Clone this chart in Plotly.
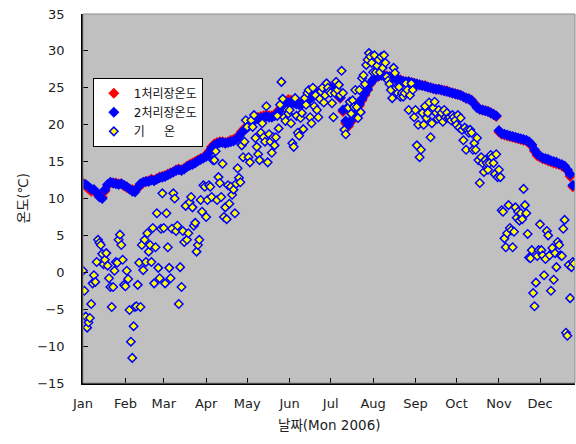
import pandas as pd
import plotly.graph_objects as go

# ---------------- data ----------------
months = ["Jan", "Feb", "Mar", "Apr", "May", "Jun", "Jul", "Aug", "Sep", "Oct", "Nov", "Dec"]
month_starts = ["2006-%02d-01" % m for m in range(1, 13)]

# water temperature, plant 1 (every 2 days from 2006-01-01)
plant1 = [12.1, 11.7, 11.3, 11.0, 11.0, 10.7, 10.3, 10.2, 11.0, 11.8, 12.1, 12.1, 12.1, 12.0, 12.0, 11.7,
          11.5, 11.3, 11.2, 11.1, 11.4, 11.9, 12.1, 12.3, 12.4, 12.6, 12.5, 12.7, 12.9, 13.0, 13.1, 13.3,
          13.5, 13.6, 13.9, 14.0, 13.9, 14.1, 14.4, 14.6, 14.8, 15.0, 15.2, 15.4, 15.6, 15.9, 16.4, 17.0,
          17.4, 17.6, 17.7, 17.7, 17.6, 17.7, 17.9, 18.0, 18.2, 18.6, 19.1, 19.5, 19.8, 20.2, 20.6, 20.9,
          21.0, 21.1, 21.2, 21.3, 21.2, 21.2, 21.4, 21.7, 22.2, 22.7, 23.0, 23.4, 23.3, 23.1, 23.0, 22.9,
          23.0, 23.2, 23.4, 23.7, 24.0, 24.3, 24.5, 24.7, 24.9, 25.1, 25.2, 25.1, 24.8, 24.4, 23.6, 21.8,
          20.2, 19.8, 20.4, 21.3, 22.0, 22.6, 23.3, 24.0, 24.7, 25.5, 26.0, 26.4, 26.6, 26.7, 26.7, 26.6,
          26.5, 26.4, 26.3, 26.2, 26.1, 25.9, 25.8, 25.8, 25.7, 25.6, 25.5, 25.4, 25.3, 25.3, 25.1, 25.0,
          24.9, 24.8, 24.8, 24.7, 24.6, 24.6, 24.4, 24.3, 24.2, 24.1, 24.0, 23.8, 23.6, 23.5, 23.3, 22.9,
          22.4, 22.1, 22.0, 21.9, 21.8, 21.6, 21.4, 21.1, 19.0, 18.7, 18.6, 18.5, 18.4, 18.3, 18.2, 18.1,
          18.0, 17.9, 17.8, 17.6, 17.1, 16.4, 15.8, 15.6, 15.4, 15.3, 15.1, 15.0, 14.8, 14.7, 14.6, 14.4,
          14.2, 13.8, 13.0, 11.6]

# water temperature, plant 2 (every 2 days from 2006-01-01)
plant2 = [12.0, 11.9, 11.6, 11.3, 11.2, 10.8, 10.2, 10.0, 11.2, 11.9, 12.2, 12.1, 12.0, 11.9, 12.0, 11.8,
          11.6, 11.3, 11.0, 10.9, 11.5, 12.0, 12.2, 12.3, 12.3, 12.5, 12.4, 12.6, 12.8, 12.9, 13.0, 13.2,
          13.4, 13.6, 13.8, 13.9, 13.8, 14.0, 14.3, 14.5, 14.6, 14.8, 15.1, 15.3, 15.5, 15.7, 16.2, 16.8,
          17.2, 17.4, 17.6, 17.6, 17.5, 17.6, 17.7, 17.8, 18.0, 18.4, 18.9, 19.3, 19.6, 20.0, 20.4, 20.7,
          20.8, 20.9, 21.0, 21.1, 21.0, 21.0, 21.2, 21.5, 22.0, 22.4, 22.7, 23.0, 23.0, 22.9, 22.8, 22.7,
          22.8, 23.0, 23.2, 23.5, 23.8, 24.1, 24.3, 24.5, 24.7, 24.9, 25.0, 24.9, 24.6, 24.3, 23.7, 22.0,
          20.5, 20.0, 20.6, 21.5, 22.2, 22.8, 23.5, 24.2, 24.8, 25.6, 26.1, 26.5, 26.6, 26.7, 26.6, 26.5,
          26.5, 26.4, 26.3, 26.2, 26.0, 25.9, 25.8, 25.8, 25.7, 25.6, 25.5, 25.4, 25.3, 25.2, 25.1, 25.0,
          24.9, 24.8, 24.8, 24.7, 24.6, 24.5, 24.4, 24.3, 24.2, 24.1, 24.0, 23.8, 23.6, 23.5, 23.3, 22.8,
          22.3, 22.1, 22.0, 21.9, 21.8, 21.6, 21.4, 21.2, 19.2, 18.8, 18.7, 18.6, 18.5, 18.4, 18.3, 18.2,
          18.1, 18.0, 17.9, 17.7, 17.3, 16.6, 16.0, 15.8, 15.5, 15.4, 15.3, 15.1, 15.0, 14.9, 14.7, 14.6,
          14.4, 13.9, 13.3, 11.8]

# daily air temperature by month
air_jan = [0.2, -2.5, -6.0, -7.5, -6.8, -6.2, -4.3, -1.5, -0.4, -1.3, 1.4, 4.4, 4.0, 3.7, 2.5, 1.1,
           1.7, 2.6, 0.9, -0.8, -2.0, -4.7, -2.0, 0.2, 1.4, 1.3, 4.4, 5.1, 3.7, 1.7, -1.7]
air_feb = [-1.9, 0.2, -0.9, -5.1, -9.4, -11.6, -7.3, -4.7, -4.6, -1.7, 1.3, -4.7, 3.7, 0.3, 4.4, 1.4,
           5.3, 2.8, 3.7, 1.4, 6.0, -1.5, 3.4, 8.0, 0.6, -0.8, 5.9, 10.7]
air_mar = [6.0, -1.5, 8.0, 3.4, 0.6, -0.8, 5.9, 10.7, 10.0, 5.6, 6.3, -4.3, 0.7, -2.0, 5.6, 4.1,
           9.0, 4.4, 5.3, 9.5, 10.2, 8.8, 6.3, 6.7, 2.8, 3.7, 4.4, 9.8, 8.2, 11.8, 11.6]
air_apr = [7.5, 9.8, 11.8, 11.6, 10.2, 15.2, 15.2, 16.4, 9.8, 12.9, 12.1, 10.2, 14.7, 7.5, 8.8, 7.2,
           11.8, 9.3, 11.6, 10.5, 11.2, 8.0, 12.0, 14.1, 12.8, 12.2, 17.2, 15.6, 17.7, 20.6]
air_may = [19.7, 15.6, 14.9, 20.6, 19.7, 21.3, 18.2, 17.0, 16.0, 15.2, 18.9, 20.2, 18.3, 17.7, 22.5, 14.9,
           18.7, 17.7, 16.2, 18.3, 17.2, 18.3, 21.2, 19.5, 22.7, 25.8, 23.5, 21.0, 20.5, 22.0, 21.5]
air_jun = [22.0, 20.2, 17.5, 17.0, 23.6, 21.2, 18.9, 18.5, 20.9, 21.6, 19.4, 23.6, 22.7, 24.3, 24.7, 21.0,
           20.2, 25.0, 22.5, 24.0, 22.0, 21.0, 23.5, 24.5, 25.0, 23.0, 24.0, 25.6, 25.0, 24.5]
air_jul = [24.3, 22.9, 21.0, 24.3, 25.8, 24.7, 25.4, 24.0, 27.3, 24.3, 19.3, 18.7, 22.3, 22.3, 23.1, 21.5,
           23.3, 22.4, 24.7, 22.4, 20.9, 24.7, 21.7, 26.3, 26.7, 25.5, 28.1, 28.8, 29.7, 29.2, 28.4]
air_aug = [27.1, 29.4, 27.1, 28.0, 28.8, 27.1, 29.2, 27.7, 29.4, 28.4, 26.5, 26.0, 25.5, 24.7, 23.6, 27.7,
           27.0, 25.0, 24.3, 25.1, 23.8, 24.3, 23.8, 24.3, 25.6, 24.7, 22.0, 24.0, 25.6, 24.7, 21.0]
air_sep = [22.0, 17.2, 20.0, 15.6, 16.6, 21.6, 20.0, 22.5, 20.9, 21.6, 23.0, 18.3, 20.2, 22.3, 23.1, 21.6,
           20.8, 22.0, 20.9, 21.6, 20.4, 22.0, 21.0, 21.6, 20.9, 21.0, 20.6, 21.3, 21.0, 20.6]
air_oct = [20.0, 21.3, 19.6, 20.9, 19.3, 17.9, 19.6, 16.6, 19.3, 18.9, 19.3, 18.9, 16.6, 17.5, 16.6, 18.2,
           15.2, 12.1, 15.6, 14.8, 13.6, 15.2, 14.8, 13.9, 14.8, 15.9, 15.6, 14.8, 13.3, 16.0, 12.9]
air_nov = [13.9, 12.9, 8.4, 8.2, 4.6, 3.4, 5.3, 9.1, 6.0, 5.7, 3.4, 5.5, 8.8, 7.4, 8.2, 7.0,
           8.0, 7.2, 11.3, 9.1, 8.0, 5.2, 2.0, 1.9, 3.0, -2.8, -4.6, -1.4, 2.2, 3.0]
air_dec = [6.5, 3.0, 2.3, -0.4, 1.8, 5.6, 5.0, 2.3, -2.5, 3.3, -1.0, 2.6, 0.7, 4.1, 3.7, 2.3,
           2.2, 5.9, 7.1, -8.2, -8.6, 1.0, -3.5, 0.7, 1.4, 1.2]

names = ["1처리장온도", "2처리장온도", "기\u00a0\u00a0\u00a0\u00a0\u00a0온"]

# ---------------- build ----------------
air = (air_jan + air_feb + air_mar + air_apr + air_may + air_jun +
       air_jul + air_aug + air_sep + air_oct + air_nov + air_dec)
air_dates = pd.date_range("2006-01-01", periods=len(air), freq="D")
p1_dates = pd.date_range("2006-01-01", periods=len(plant1), freq="2D")
p2_dates = pd.date_range("2006-01-01", periods=len(plant2), freq="2D")

FONT = "DejaVu Sans, Noto Sans CJK KR, sans-serif"

fig = go.Figure()
fig.add_trace(go.Scatter(x=p1_dates, y=plant1, mode="markers", name=names[0],
                         marker=dict(symbol="diamond", size=8.5, color="#FF0000",
                                     line=dict(width=0))))
fig.add_trace(go.Scatter(x=p2_dates, y=plant2, mode="markers", name=names[1],
                         marker=dict(symbol="diamond", size=8.5, color="#0000FF",
                                     line=dict(width=0))))
fig.add_trace(go.Scatter(x=air_dates, y=air, mode="markers", name=names[2],
                         marker=dict(symbol="diamond", size=6.5, color="#FFFF00",
                                     line=dict(width=1.5, color="#0000FF"))))

fig.update_layout(
    width=576, height=444,
    margin=dict(l=83, r=1, t=14, b=61),
    paper_bgcolor="white",
    plot_bgcolor="#C0C0C0",
    font=dict(family=FONT, size=13, color="#222"),
    showlegend=True,
    legend=dict(x=0.02, y=0.827, xanchor="left", yanchor="top",
                bgcolor="white", bordercolor="black", borderwidth=1,
                font=dict(size=12, color="#111"), itemwidth=30, tracegroupgap=0),
    shapes=[dict(type="rect", xref="paper", yref="paper", x0=0, x1=1, y0=0, y1=1,
                 line=dict(color="#8c8c8c", width=1), layer="above")],
    annotations=[
        dict(text="날짜(Mon 2006)", xref="paper", yref="paper", x=0.5, y=0,
             yshift=-42, showarrow=False, yanchor="middle", font=dict(size=13.5)),
        dict(text="온도(℃)", xref="paper", yref="paper", x=0, y=0.5, xshift=-61,
             showarrow=False, textangle=-90, xanchor="center", yanchor="middle",
             font=dict(size=13.5)),
    ],
)

fig.update_xaxes(type="date", range=["2006-01-01", "2006-12-26 14:00"],
                 tickvals=month_starts, ticktext=months,
                 ticks="inside", ticklen=5, tickcolor="black", tickwidth=1,
                 showline=True, linecolor="black", linewidth=1.5,
                 showgrid=False, zeroline=False, ticklabelstandoff=8)
fig.update_yaxes(range=[-15, 35], tick0=-15, dtick=5,
                 ticks="inside", ticklen=5, tickcolor="black", tickwidth=1,
                 showline=True, linecolor="black", linewidth=1.5,
                 showgrid=False, zeroline=False, ticklabelstandoff=14)

fig.write_html("out.html")
